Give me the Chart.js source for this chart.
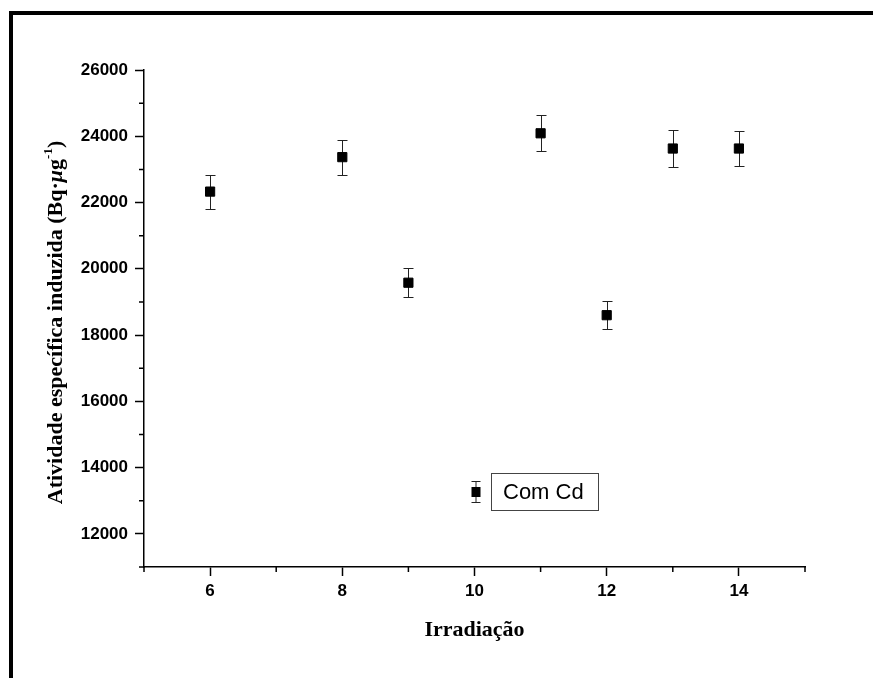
<!DOCTYPE html>
<html>
<head>
<meta charset="utf-8">
<script src="https://cdn.jsdelivr.net/npm/chart.js@4.4.1/dist/chart.umd.min.js"></script>
<style>
  html, body { margin: 0; padding: 0; background: #fff; }
  #wrap { width: 873px; height: 678px; position: relative; }
</style>
</head>
<body>
<div id="wrap"><canvas id="c" width="873" height="678"></canvas></div>
<script>
// Irradiation number and induced specific activity (Bq/µg) with its uncertainty
const irradiations = [6, 8, 9, 11, 12, 13, 14];
const activity = [22330, 23370, 19580, 24090, 18600, 23630, 23630];
const activityErr = [513, 532, 443, 549, 423, 548, 537];
const seriesLabel = 'Com Cd';
const xTitle = 'Irradiação';
const yTitleParts = ['Atividade específica induzida (Bq·', 'μ', 'g', '-1', ')'];

const tickFont = { family: "'Liberation Sans', Arial, sans-serif", size: 17, weight: 'bold' };
const serifBold = "bold 22px 'Liberation Serif', 'Times New Roman', serif";

const points = irradiations.map((x, i) => ({ x: x, y: activity[i], e: activityErr[i] }));

// frame, error bars, minor ticks, axis titles and the legend box
const decorations = {
  id: 'decorations',
  beforeDraw(chart) {
    const ctx = chart.ctx;
    ctx.save();
    ctx.fillStyle = '#fff';
    ctx.fillRect(0, 0, chart.width, chart.height);
    ctx.fillStyle = '#000';
    ctx.fillRect(9, 11, chart.width - 9, 4);
    ctx.fillRect(9, 11, 4, chart.height - 11);
    ctx.restore();
  },
  beforeDatasetsDraw(chart) {
    const ctx = chart.ctx;
    const xs = chart.scales.x, ys = chart.scales.y;
    ctx.save();
    ctx.strokeStyle = '#222';
    ctx.lineWidth = 1;
    chart.data.datasets[0].data.forEach(p => {
      const px = Math.round(xs.getPixelForValue(p.x)) + 0.5;
      const top = Math.round(ys.getPixelForValue(p.y + p.e)) + 0.5;
      const bot = Math.round(ys.getPixelForValue(p.y - p.e)) + 0.5;
      ctx.beginPath();
      ctx.moveTo(px, top); ctx.lineTo(px, bot);
      ctx.moveTo(px - 5, top); ctx.lineTo(px + 5, top);
      ctx.moveTo(px - 5, bot); ctx.lineTo(px + 5, bot);
      ctx.stroke();
    });
    ctx.restore();
  },
  afterDraw(chart) {
    const ctx = chart.ctx;
    const xs = chart.scales.x, ys = chart.scales.y;
    const area = chart.chartArea;
    ctx.save();
    ctx.strokeStyle = '#000';
    ctx.lineWidth = 1.5;
    // minor ticks
    ctx.beginPath();
    for (let v = xs.min; v <= xs.max; v += 1) {
      if (v % 2 !== 0) {
        const px = xs.getPixelForValue(v);
        ctx.moveTo(px, area.bottom); ctx.lineTo(px, area.bottom + 5);
      }
    }
    for (let v = ys.min; v <= ys.max; v += 1000) {
      if (v % 2000 !== 0) {
        const py = ys.getPixelForValue(v);
        ctx.moveTo(area.left, py); ctx.lineTo(area.left - 5, py);
      }
    }
    ctx.stroke();

    // axis titles
    ctx.fillStyle = '#000';
    ctx.font = serifBold;
    ctx.textAlign = 'center';
    ctx.textBaseline = 'alphabetic';
    ctx.fillText(xTitle, (area.left + area.right) / 2, 636);

    const fonts = [serifBold,
      "italic bold 22px 'Liberation Serif', 'Times New Roman', serif",
      serifBold,
      "bold 13px 'Liberation Serif', 'Times New Roman', serif",
      serifBold];
    const rises = [0, 0, 0, 10, 0];
    let total = 0;
    const widths = yTitleParts.map((t, i) => { ctx.font = fonts[i]; const w = ctx.measureText(t).width; total += w; return w; });
    ctx.translate(62, (area.top + area.bottom) / 2 + 4);
    ctx.rotate(-Math.PI / 2);
    ctx.textAlign = 'left';
    let cx = -total / 2;
    yTitleParts.forEach((t, i) => {
      ctx.font = fonts[i];
      ctx.fillText(t, cx, -rises[i]);
      cx += widths[i];
    });
    ctx.restore();

    // legend
    ctx.save();
    const lx = xs.getPixelForValue(10) + 1, ly = 492;
    ctx.strokeStyle = '#222';
    ctx.lineWidth = 1;
    ctx.beginPath();
    ctx.moveTo(lx + 0.5, ly - 11); ctx.lineTo(lx + 0.5, ly + 10);
    ctx.moveTo(lx - 4, ly - 10.5); ctx.lineTo(lx + 5, ly - 10.5);
    ctx.moveTo(lx - 4, ly + 10.5); ctx.lineTo(lx + 5, ly + 10.5);
    ctx.stroke();
    ctx.fillStyle = '#000';
    ctx.fillRect(lx - 4, ly - 5, 9, 10);
    ctx.strokeStyle = '#444';
    ctx.strokeRect(491.5, 473.5, 107, 37);
    ctx.font = "22px 'Liberation Sans', Arial, sans-serif";
    ctx.textAlign = 'left';
    ctx.textBaseline = 'middle';
    ctx.fillStyle = '#000';
    ctx.fillText(chart.data.datasets[0].label, 503, ly + 1);
    ctx.restore();
  }
};

new Chart(document.getElementById('c'), {
  type: 'scatter',
  data: {
    datasets: [{
      label: seriesLabel,
      data: points,
      pointStyle: 'rect',
      pointRadius: 6.5,
      pointHoverRadius: 6.5,
      backgroundColor: '#000',
      borderColor: '#000',
      borderWidth: 1,
      showLine: false
    }]
  },
  options: {
    responsive: false,
    animation: false,
    events: [],
    layout: { padding: { top: 70, right: 68, left: 0, bottom: 0 } },
    plugins: { legend: { display: false }, tooltip: { enabled: false } },
    scales: {
      x: {
        type: 'linear',
        min: 5, max: 15,
        afterFit(s) { s.height = 111; },
        border: { display: true, color: '#000', width: 1.5 },
        grid: {
          drawOnChartArea: false, drawTicks: true, tickLength: 9, tickWidth: 1.5,
          tickColor: c => (c.tick && c.tick.value % 2 === 0) ? '#000' : 'rgba(0,0,0,0)'
        },
        ticks: {
          stepSize: 1, autoSkip: false, maxRotation: 0, padding: 5,
          color: '#000', font: tickFont,
          callback: v => (v % 2 === 0 ? String(v) : '')
        }
      },
      y: {
        type: 'linear',
        min: 11000, max: 26000,
        afterFit(s) { s.width = 144; },
        border: { display: true, color: '#000', width: 1.5 },
        grid: {
          drawOnChartArea: false, drawTicks: true, tickLength: 9, tickWidth: 1.5,
          tickColor: c => (c.tick && c.tick.value % 2000 === 0) ? '#000' : 'rgba(0,0,0,0)'
        },
        ticks: {
          stepSize: 1000, autoSkip: false, padding: 7,
          color: '#000', font: tickFont,
          callback: v => (v % 2000 === 0 ? String(v) : '')
        }
      }
    }
  },
  plugins: [decorations]
});
</script>
</body>
</html>
